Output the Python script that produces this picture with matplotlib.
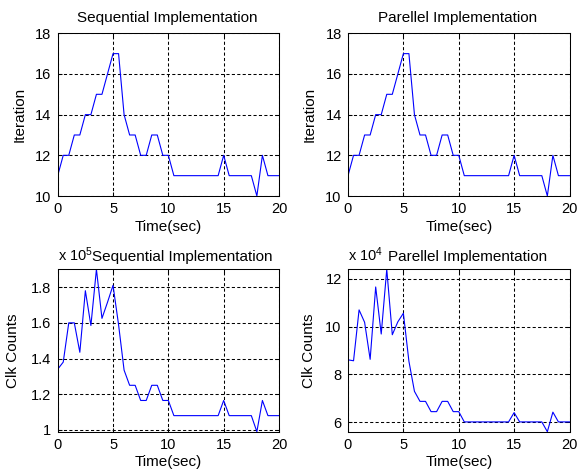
import numpy as np
import matplotlib
matplotlib.use("Agg")
import matplotlib.pyplot as plt

plt.rcParams['font.family'] = ['Liberation Sans', 'DejaVu Sans']
plt.rcParams['mathtext.fontset'] = 'custom'
plt.rcParams['mathtext.rm'] = 'Liberation Sans'
plt.rcParams['mathtext.it'] = 'Liberation Sans'

# ---- data ----
time_sec = np.arange(0, 20.01, 0.5)

iter_seq = [11, 12, 12, 13, 13, 14, 14, 15, 15, 16, 17, 17, 14, 13, 13, 12, 12, 13, 13, 12, 12,
            11, 11, 11, 11, 11, 11, 11, 11, 11,
            12, 11, 11, 11, 11, 11, 10, 12, 11, 11, 11]
iter_par = [11, 12, 12, 13, 13, 14, 14, 15, 15, 16, 17, 17, 14, 13, 13, 12, 12, 13, 13, 12, 12,
            11, 11, 11, 11, 11, 11, 11, 11, 11,
            12, 11, 11, 11, 11, 11, 10, 12, 11, 11, 11]

# clock counts (x 1e5)
clk_seq = [1.34, 1.38, 1.60, 1.60, 1.435, 1.78, 1.585, 1.90, 1.625, 1.715, 1.81, 1.59, 1.335,
           1.25, 1.25, 1.165, 1.165, 1.25, 1.25, 1.165, 1.165,
           1.08, 1.08, 1.08, 1.08, 1.08, 1.08, 1.08, 1.08, 1.08,
           1.165, 1.08, 1.08, 1.08, 1.08, 1.08, 0.99, 1.165, 1.08, 1.08, 1.08]
# clock counts (x 1e4)
clk_par = [8.61, 8.57, 10.70, 10.18, 8.63, 11.66, 9.69, 12.40, 9.66, 10.2, 10.56, 8.55, 7.29,
           6.87, 6.87, 6.44, 6.44, 6.87, 6.87, 6.44, 6.44,
           6.01, 6.01, 6.01, 6.01, 6.01, 6.01, 6.01, 6.01, 6.01,
           6.40, 6.01, 6.01, 6.01, 6.01, 6.01, 5.60, 6.42, 6.01, 6.01, 6.01]

x_ticks = [0, 5, 10, 15, 20]
iter_ticks = [10, 12, 14, 16, 18]
seq_ticks = [1.0, 1.2, 1.4, 1.6, 1.8]
seq_ticklabels = ['1', '1.2', '1.4', '1.6', '1.8']
par_ticks = [6, 8, 10, 12]

W, H = 578, 475
fig = plt.figure(figsize=(W / 100, H / 100), dpi=100)
fig.patch.set_facecolor('white')

def px_axes(x0, x1, ytop, ybot):
    return fig.add_axes([x0 / W, 1 - ybot / H, (x1 - x0) / W, (ybot - ytop) / H])

ax_tl = px_axes(57.7, 279, 33.3, 196)
ax_tr = px_axes(348, 569.5, 33.3, 196)
ax_bl = px_axes(57.7, 279, 269.3, 431.7)
ax_br = px_axes(348, 569.5, 269.3, 431.7)

def style(ax, y, yticks, ylim, ylabel, ylab_x, yticklabels=None):
    ax.plot(time_sec, y, color=(0, 0, 1), lw=0.8)
    ax.set_xlim(0, 20)
    ax.set_ylim(*ylim)
    ax.set_xticks(x_ticks)
    ax.set_yticks(yticks)
    if yticklabels is not None:
        ax.set_yticklabels(yticklabels)
    ax.grid(True, color='black', linestyle=(0, (3, 2.2)), linewidth=0.75)
    ax.tick_params(direction='in', length=3, width=0.75, labelsize=10.5,
                   top=True, right=True, pad=4.5, colors='black')
    for s in ax.spines.values():
        s.set_linewidth(0.75)
        s.set_color('black')
    ax.set_xlabel('Time(sec)', fontsize=11, labelpad=2.5)
    ax.set_ylabel(ylabel, fontsize=11)
    ax.yaxis.set_label_coords(ylab_x, 0.5)

style(ax_tl, iter_seq, iter_ticks, (10, 18), 'Iteration', -0.142)
style(ax_tr, iter_par, iter_ticks, (10, 18), 'Iteration', -0.143)
style(ax_bl, clk_seq, seq_ticks, (min(clk_seq), max(clk_seq)), 'Clk Counts', -0.169, seq_ticklabels)
style(ax_br, clk_par, par_ticks, (min(clk_par), max(clk_par)), 'Clk Counts', -0.143)

def ftext(xpx, ypx, s, size=11, **kw):
    fig.text(xpx / W, 1 - ypx / H, s, fontsize=size, va='baseline', **kw)

ftext(167, 21.7, 'Sequential Implementation', ha='center')
ftext(458, 21.7, 'Parellel Implementation', ha='center')
ftext(182.5, 260.5, 'Sequential Implementation', ha='center')
ftext(467.5, 260.5, 'Parellel Implementation', ha='center')
ftext(58, 260.5, r'x 10$^{\mathregular{5}}$', size=10.5, ha='left')
ftext(348.5, 260.5, r'x 10$^{\mathregular{4}}$', size=10.5, ha='left')

fig.savefig('out.png', dpi=100, facecolor='white')
